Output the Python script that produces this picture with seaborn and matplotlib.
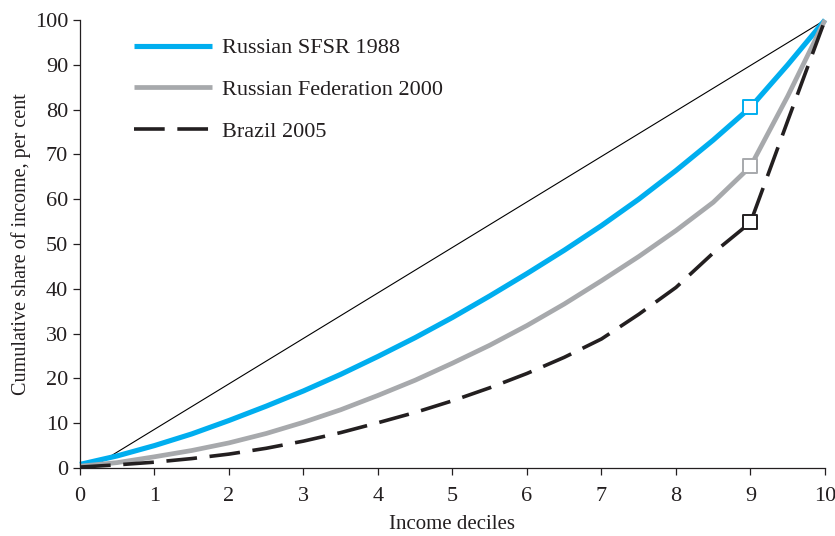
import matplotlib
matplotlib.use("Agg")
import matplotlib.pyplot as plt
from matplotlib.lines import Line2D
import seaborn as sns
import pandas as pd

# Cumulative income share by half-decile of the population (per cent)
population = [0, 0.5, 1, 1.5, 2, 2.5, 3, 3.5, 4, 4.5, 5,
              5.5, 6, 6.5, 7, 7.5, 8, 8.5, 9, 9.5, 10]
rsfsr_1988 = [0.8, 2.7, 5.0, 7.6, 10.6, 13.8, 17.2, 20.9, 24.9, 29.1, 33.6,
              38.4, 43.4, 48.6, 54.1, 60.0, 66.4, 73.2, 80.5, 90.0, 100]
russia_2000 = [0.4, 1.2, 2.5, 3.9, 5.6, 7.7, 10.2, 13.0, 16.2, 19.6, 23.4,
               27.4, 31.8, 36.6, 41.8, 47.2, 53.0, 59.3, 67.3, 83.0, 100]
brazil_2005 = [0.2, 0.7, 1.3, 2.1, 3.1, 4.4, 6.0, 7.9, 10.1, 12.4, 15.0,
               17.9, 21.1, 24.7, 28.8, 34.3, 40.3, 48.0, 54.8, 77.5, 100]

series_names = ["Russian SFSR 1988", "Russian Federation 2000", "Brazil 2005"]
series_values = [rsfsr_1988, russia_2000, brazil_2005]
series_colors = ["#00AEEF", "#A7A9AC", "#231F20"]
series_widths = [3.7, 3.4, 2.6]

# Line of perfect equality
equality_x = [0.15, 10]
equality_y = [0, 100]

# Highlighted decile (threshold of the richest tenth)
marker_decile = 9

x_ticks = list(range(0, 11))
y_ticks = list(range(0, 101, 10))

sns.set_theme(style="ticks")
plt.rcParams["font.family"] = ["Liberation Serif", "DejaVu Serif"]
ink = "#231F20"

fig = plt.figure(figsize=(8.35, 5.36), dpi=100)
ax = fig.add_axes([0.0958, 0.1269, 0.8922, 0.8358])

sns.lineplot(x=equality_x, y=equality_y, ax=ax, color="black", linewidth=0.8)

for name, vals, col, lw in zip(series_names, series_values, series_colors, series_widths):
    df = pd.DataFrame({"population": population, "share": vals})
    sns.lineplot(data=df, x="population", y="share", ax=ax, color=col,
                 linewidth=lw, clip_on=False)
    line = ax.lines[-1]
    line.set_solid_capstyle("butt")
    line.set_solid_joinstyle("round")
    if name == "Brazil 2005":
        line.set_dashes((8.5, 3.5))

idx = population.index(marker_decile)
for vals, col in zip(series_values, series_colors):
    sns.scatterplot(x=[population[idx]], y=[vals[idx]], ax=ax, marker="s", s=110,
                    color="white", edgecolor=col, linewidth=1.4, zorder=5,
                    clip_on=False)

ax.set_xlim(0, 10)
ax.set_ylim(0, 100)
ax.set_xticks(x_ticks)
ax.set_yticks(y_ticks)
ax.tick_params(direction="out", length=5, width=0.9, labelsize=16, colors=ink)
ax.tick_params(axis="x", pad=8.5)
ax.tick_params(axis="y", pad=3.5)
for side in ["left", "bottom"]:
    ax.spines[side].set_linewidth(0.9)
    ax.spines[side].set_color(ink)
sns.despine(ax=ax)

ax.set_xlabel("Income deciles", fontsize=15, color=ink, labelpad=7)
ax.set_ylabel("Cumulative share of income, per cent", fontsize=14.5, color=ink,
              labelpad=3)

handles = [
    Line2D([], [], color=series_colors[0], linewidth=series_widths[0], solid_capstyle="butt"),
    Line2D([], [], color=series_colors[1], linewidth=series_widths[1], solid_capstyle="butt"),
    Line2D([], [], color=series_colors[2], linewidth=series_widths[2], dashes=(8.5, 3.5)),
]
ax.legend(handles, series_names, loc="upper left", bbox_to_anchor=(0.057, 0.985),
          frameon=False, fontsize=16, handlelength=3.55, handletextpad=0.42,
          labelspacing=0.95, borderpad=0, labelcolor=ink)

fig.savefig("out.png", dpi=100)
